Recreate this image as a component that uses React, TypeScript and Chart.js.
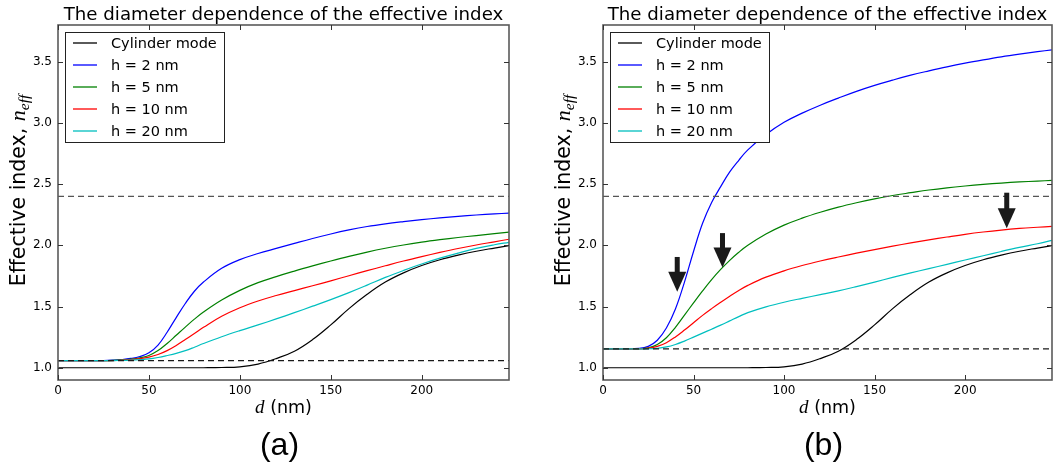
import React, { useEffect, useRef } from "react";
import { Chart, registerables } from "chart.js";

Chart.register(...registerables);

// ---------- data ----------
const DIAMETERS = [0, 10, 20, 25, 30, 35, 40, 45, 50, 55, 60, 65, 70, 75, 80, 90, 100, 110, 120, 130, 140, 150, 160, 170, 180, 190, 200, 210, 220, 230, 240, 248];

const CYLINDER = [1, 1, 1, 1, 1, 1, 1, 1, 1, 1, 1, 1, 1, 1, 1, 1.002, 1.008, 1.03, 1.075, 1.135, 1.23, 1.35, 1.483, 1.6, 1.7, 1.775, 1.835, 1.882, 1.92, 1.952, 1.978, 1.998];

const A_H2 = [1.058, 1.058, 1.058, 1.059, 1.062, 1.067, 1.076, 1.092, 1.122, 1.185, 1.29, 1.41, 1.525, 1.625, 1.7, 1.812, 1.883, 1.933, 1.975, 2.016, 2.056, 2.093, 2.126, 2.154, 2.176, 2.194, 2.21, 2.224, 2.237, 2.248, 2.257, 2.263];
const A_H5 = [1.058, 1.058, 1.058, 1.058, 1.06, 1.064, 1.071, 1.082, 1.1, 1.14, 1.198, 1.265, 1.332, 1.397, 1.455, 1.553, 1.632, 1.695, 1.745, 1.79, 1.832, 1.872, 1.91, 1.945, 1.976, 2.003, 2.026, 2.046, 2.064, 2.08, 2.095, 2.108];
const A_H10 = [1.058, 1.058, 1.058, 1.058, 1.059, 1.062, 1.066, 1.074, 1.087, 1.108, 1.14, 1.182, 1.23, 1.28, 1.33, 1.42, 1.49, 1.545, 1.59, 1.63, 1.67, 1.71, 1.752, 1.793, 1.833, 1.872, 1.908, 1.942, 1.974, 2.003, 2.029, 2.05];
const A_H20 = [1.058, 1.058, 1.058, 1.058, 1.058, 1.06, 1.062, 1.066, 1.072, 1.084, 1.1, 1.118, 1.14, 1.168, 1.198, 1.253, 1.303, 1.35, 1.399, 1.45, 1.503, 1.557, 1.614, 1.675, 1.738, 1.795, 1.848, 1.895, 1.937, 1.975, 2.005, 2.025];

const B_H2 = [1.155, 1.155, 1.158, 1.175, 1.225, 1.325, 1.48, 1.7, 1.95, 2.18, 2.35, 2.48, 2.6, 2.695, 2.78, 2.905, 3.005, 3.08, 3.145, 3.203, 3.258, 3.307, 3.35, 3.39, 3.425, 3.458, 3.488, 3.515, 3.54, 3.562, 3.582, 3.597];
const B_H5 = [1.155, 1.155, 1.155, 1.163, 1.19, 1.245, 1.33, 1.43, 1.53, 1.628, 1.72, 1.803, 1.877, 1.943, 2.0, 2.092, 2.165, 2.222, 2.27, 2.312, 2.348, 2.38, 2.407, 2.43, 2.452, 2.47, 2.485, 2.498, 2.509, 2.518, 2.525, 2.53];
const B_H10 = [1.155, 1.155, 1.155, 1.16, 1.175, 1.205, 1.252, 1.308, 1.368, 1.428, 1.483, 1.535, 1.585, 1.632, 1.673, 1.74, 1.792, 1.835, 1.872, 1.905, 1.936, 1.965, 1.993, 2.02, 2.045, 2.068, 2.09, 2.109, 2.125, 2.138, 2.148, 2.155];
const B_H20 = [1.155, 1.155, 1.155, 1.155, 1.159, 1.17, 1.19, 1.218, 1.25, 1.283, 1.315, 1.348, 1.383, 1.418, 1.45, 1.497, 1.535, 1.567, 1.597, 1.628, 1.663, 1.7, 1.738, 1.775, 1.81, 1.845, 1.88, 1.915, 1.95, 1.983, 2.013, 2.04];

const DASH_A = [2.4, 1.058];
const DASH_B = [2.4, 1.155];

const X_RANGE = [0, 248];
const Y_RANGE = [0.9, 3.8];
const X_TICKS = [0, 50, 100, 150, 200];
const Y_TICKS = [1.0, 1.5, 2.0, 2.5, 3.0, 3.5];

const SERIES_LABELS = ["Cylinder mode", "h = 2 nm", "h = 5 nm", "h = 10 nm", "h = 20 nm"];
const SERIES_COLORS = ["#000000", "#0000ff", "#008000", "#ff0000", "#00bfbf"];

const TITLE = "The diameter dependence of the effective index";
const PANEL_LABELS = ["(a)", "(b)"];

// arrows in panel (b): x position, tail value, tip value
const ARROW_D = [41, 66, 223];
const ARROW_TAIL = [1.905, 2.1, 2.43];
const ARROW_TIP = [1.62, 1.82, 2.14];

// ---------- chart ----------
const SANS = '"DejaVu Sans", sans-serif';

function decorPlugin(panelIndex: number) {
  return {
    id: "decor" + panelIndex,
    beforeDraw(chart: any) {
      const ctx = chart.ctx;
      ctx.save();
      ctx.fillStyle = "#ffffff";
      ctx.fillRect(0, 0, chart.width, chart.height);
      ctx.restore();
    },
    afterDatasetsDraw(chart: any) {
      const ctx = chart.ctx;
      const { left, right, top, bottom } = chart.chartArea;
      const xs = chart.scales.x;
      const ys = chart.scales.y;
      ctx.save();
      // frame
      ctx.strokeStyle = "#5a5a5a";
      ctx.lineWidth = 1.6;
      ctx.strokeRect(left, top, right - left, bottom - top);
      // inside ticks
      ctx.strokeStyle = "#333";
      ctx.lineWidth = 1;
      X_TICKS.forEach((v) => {
        const px = Math.round(xs.getPixelForValue(v)) + 0.5;
        ctx.beginPath();
        ctx.moveTo(px, bottom);
        ctx.lineTo(px, bottom - 5);
        ctx.moveTo(px, top);
        ctx.lineTo(px, top + 5);
        ctx.stroke();
      });
      Y_TICKS.forEach((v) => {
        const py = Math.round(ys.getPixelForValue(v)) + 0.5;
        ctx.beginPath();
        ctx.moveTo(left, py);
        ctx.lineTo(left + 5, py);
        ctx.moveTo(right, py);
        ctx.lineTo(right - 5, py);
        ctx.stroke();
      });

      // legend
      const lx = left + 7;
      const ly = top + 7;
      const lw = 159;
      const lh = 110;
      ctx.fillStyle = "#ffffff";
      ctx.fillRect(lx, ly, lw, lh);
      ctx.strokeStyle = "#222";
      ctx.lineWidth = 1;
      ctx.strokeRect(lx + 0.5, ly + 0.5, lw, lh);
      ctx.font = "14.5px " + SANS;
      ctx.textBaseline = "middle";
      ctx.textAlign = "left";
      SERIES_LABELS.forEach((lab, i) => {
        const ry = top + 18 + 22 * i;
        ctx.strokeStyle = SERIES_COLORS[i];
        ctx.lineWidth = 1.3;
        ctx.beginPath();
        ctx.moveTo(left + 15, ry);
        ctx.lineTo(left + 39, ry);
        ctx.stroke();
        ctx.fillStyle = "#000";
        ctx.fillText(lab, left + 53, ry + 1);
      });

      // arrows (panel b)
      if (panelIndex === 1) {
        ctx.fillStyle = "#1a1a1a";
        ARROW_D.forEach((d, i) => {
          const px = xs.getPixelForValue(d);
          const pTail = ys.getPixelForValue(ARROW_TAIL[i]);
          const pTip = ys.getPixelForValue(ARROW_TIP[i]);
          const headLen = 20;
          const headW = 18;
          const shaftW = 5;
          ctx.fillRect(px - shaftW / 2, pTail, shaftW, pTip - headLen - pTail + 1);
          ctx.beginPath();
          ctx.moveTo(px - headW / 2, pTip - headLen);
          ctx.lineTo(px + headW / 2, pTip - headLen);
          ctx.lineTo(px, pTip);
          ctx.closePath();
          ctx.fill();
        });
      }
      ctx.restore();
    },
    afterDraw(chart: any) {
      const ctx = chart.ctx;
      const { left, right, top, bottom } = chart.chartArea;
      const cx = (left + right) / 2;
      const cy = (top + bottom) / 2;
      ctx.save();
      ctx.fillStyle = "#000";
      // title
      ctx.font = "18.2px " + SANS;
      ctx.textAlign = "center";
      ctx.textBaseline = "alphabetic";
      ctx.fillText(TITLE, cx, 19.5);

      // x axis title: italic d + (nm)
      const dFont = "italic 19px 'Liberation Serif', serif";
      const nmFont = "17.5px " + SANS;
      ctx.font = dFont;
      const wd = ctx.measureText("d").width;
      ctx.font = nmFont;
      const wnm = ctx.measureText(" (nm)").width;
      const x0 = cx - (wd + wnm) / 2;
      ctx.textAlign = "left";
      ctx.textBaseline = "alphabetic";
      ctx.font = dFont;
      ctx.fillText("d", x0, 413);
      ctx.font = nmFont;
      ctx.fillText(" (nm)", x0 + wd, 413);

      // y axis title
      const mainFont = "20.5px " + SANS;
      const nFont = "italic 22px 'Liberation Serif', serif";
      const subFont = "italic 15.5px 'Liberation Serif', serif";
      ctx.font = mainFont;
      const w1 = ctx.measureText("Effective index, ").width;
      ctx.font = nFont;
      const w2 = ctx.measureText("n").width;
      ctx.font = subFont;
      const w3 = ctx.measureText("eff").width;
      const total = w1 + w2 + w3;
      ctx.translate(left - 33, cy - 12);
      ctx.rotate(-Math.PI / 2);
      const s = -total / 2;
      ctx.font = mainFont;
      ctx.fillText("Effective index, ", s, 0);
      ctx.font = nFont;
      ctx.fillText("n", s + w1, 0);
      ctx.font = subFont;
      ctx.fillText("eff", s + w1 + w2, 4);
      ctx.setTransform(1, 0, 0, 1, 0, 0);

      // panel label
      ctx.font = "32px 'Liberation Sans', Arial, sans-serif";
      ctx.textAlign = "center";
      ctx.textBaseline = "middle";
      ctx.fillText(PANEL_LABELS[panelIndex], cx - 4, 446);
      ctx.restore();
    },
  };
}

function makeConfig(panelIndex: number): any {
  const series = panelIndex === 1 ? [CYLINDER, B_H2, B_H5, B_H10, B_H20] : [CYLINDER, A_H2, A_H5, A_H10, A_H20];
  const dashes = panelIndex === 1 ? DASH_B : DASH_A;
  const toPts = (vals: number[]) => DIAMETERS.map((d, i) => ({ x: d, y: vals[i] }));
  const datasets: any[] = [];
  dashes.forEach((v, i) => {
    datasets.push({
      label: "ref" + i,
      data: [
        { x: X_RANGE[0], y: v },
        { x: X_RANGE[1], y: v },
      ],
      borderColor: i === 0 ? "#555555" : "#1a1a1a",
      borderWidth: 1.3,
      borderDash: [6, 4],
      pointRadius: 0,
      tension: 0,
      order: 0,
    });
  });
  series.forEach((vals, i) => {
    datasets.push({
      label: SERIES_LABELS[i],
      data: toPts(vals),
      borderColor: SERIES_COLORS[i],
      borderWidth: 1.2,
      pointRadius: 0,
      tension: 0.4,
      order: 5 - i,
    });
  });
  const yAxisWidth = 58;
  return {
    type: "line",
    data: { datasets },
    options: {
      animation: false,
      responsive: false,
      events: [],
      layout: {
        padding: panelIndex === 1 ? { left: 13, right: 12, top: 25, bottom: 68 } : { left: 0, right: 23, top: 25, bottom: 68 },
      },
      plugins: { legend: { display: false }, tooltip: { enabled: false }, title: { display: false } },
      scales: {
        x: {
          type: "linear",
          min: X_RANGE[0],
          max: X_RANGE[1],
          grid: { display: false, drawTicks: false },
          border: { display: false },
          afterBuildTicks: (scale: any) => {
            scale.ticks = X_TICKS.map((v) => ({ value: v }));
          },
          afterFit: (scale: any) => {
            scale.height = 20;
          },
          ticks: {
            autoSkip: false,
            maxRotation: 0,
            padding: 4,
            color: "#000",
            font: { family: "DejaVu Sans", size: 12 },
            callback: (v: any) => String(v),
          },
        },
        y: {
          type: "linear",
          min: Y_RANGE[0],
          max: Y_RANGE[1],
          grid: { display: false, drawTicks: false },
          border: { display: false },
          afterBuildTicks: (scale: any) => {
            scale.ticks = Y_TICKS.map((v) => ({ value: v }));
          },
          afterFit: (scale: any) => {
            scale.width = yAxisWidth;
          },
          ticks: {
            autoSkip: false,
            padding: 6,
            color: "#000",
            font: { family: "DejaVu Sans", size: 12 },
            callback: (v: any) => Number(v).toFixed(1),
          },
        },
      },
    },
    plugins: [decorPlugin(panelIndex)],
  };
}

function Panel({ index }: { index: number }) {
  const ref = useRef<HTMLCanvasElement | null>(null);
  useEffect(() => {
    if (!ref.current) return;
    const chart = new Chart(ref.current, makeConfig(index));
    return () => chart.destroy();
  }, [index]);
  return <canvas ref={ref} width={532} height={468} style={{ display: "block", width: 532, height: 468 }} />;
}

export default function App() {
  return (
    <div style={{ position: "absolute", left: 0, top: 0, width: 1064, height: 468, display: "flex", background: "#fff" }}>
      <Panel index={0} />
      <Panel index={1} />
    </div>
  );
}
